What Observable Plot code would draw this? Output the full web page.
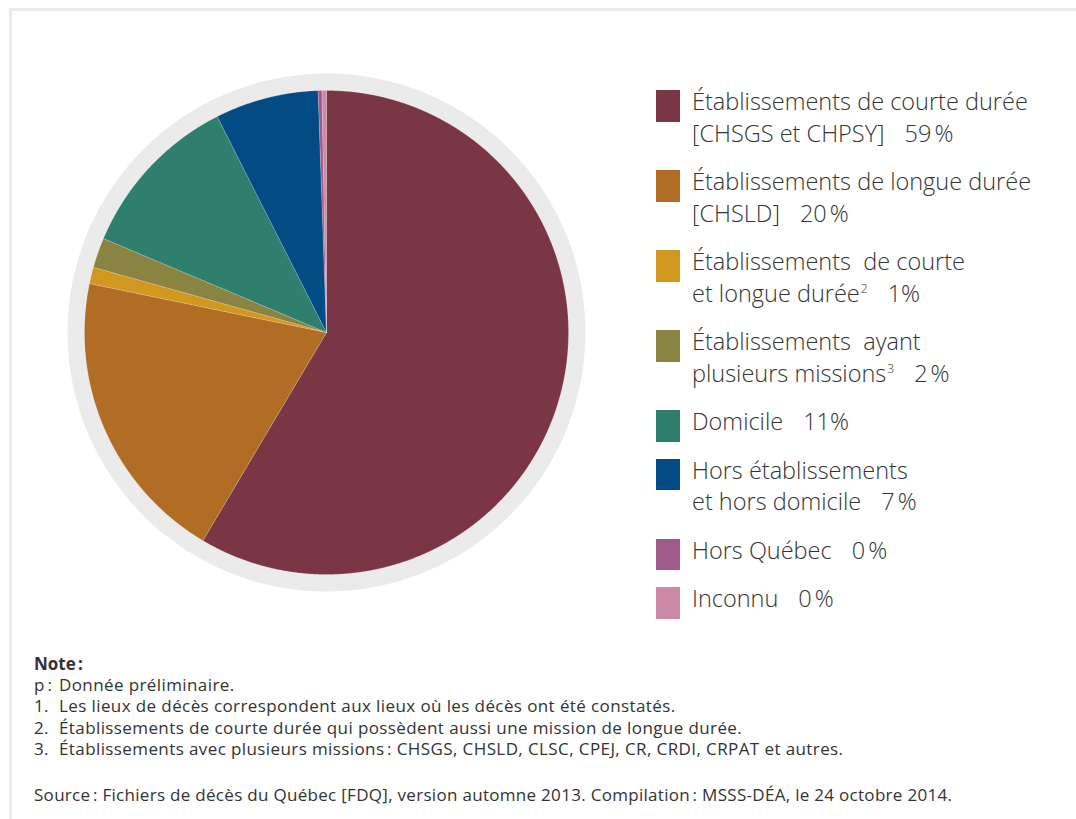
<!DOCTYPE html>
<html>
<head>
<meta charset="utf-8">
<script src="https://cdn.jsdelivr.net/npm/d3@7"></script>
<script src="https://cdn.jsdelivr.net/npm/@observablehq/plot@0.6"></script>
<style>
  html, body { margin: 0; padding: 0; background: #fff; }
  body { width: 1076px; height: 819px; position: relative; overflow: hidden;
         font-family: "Open Sans", "Noto Sans", sans-serif; font-weight: 300; color: #333; }
  #frame { position: absolute; left: 9px; top: 8px; width: 1200px; height: 1000px;
           border-top: 3px solid #ebebeb; border-left: 3px solid #ebebeb; }
  #chart { position: absolute; left: 26px; top: 32px; }
  #legend { position: absolute; left: 656px; top: 86px; width: 415px; }
  .item { position: relative; padding-left: 36px; font-size: 23.5px; line-height: 31.5px; margin-bottom: 17px; white-space: nowrap; }
  .item div { height: 31.5px; }
  .sw { position: absolute; left: 0; top: 4px; width: 24px; height: 24px; }
  .item sup { font-size: 12px; line-height: 0; vertical-align: 0; position: relative; top: -9px; margin-left: 1px; }
  .gap { display: inline-block; width: 20px; }
  #notes { position: absolute; left: 34px; top: 653px; font-size: 17px; font-weight: 400; letter-spacing: 0.4px; line-height: 21.2px; white-space: nowrap; }
  #notes b { font-weight: 700; letter-spacing: 0; }
  .lbl { display: inline-block; width: 25px; }
  #source { position: absolute; left: 34px; top: 784px; font-size: 17px; font-weight: 400; letter-spacing: 0.3px; line-height: 21px; white-space: nowrap; }
</style>
</head>
<body>
<div id="frame"></div>
<div id="chart"></div>
<div id="legend"></div>
<div id="notes"></div>
<div id="source"></div>
<script>
// ---- Data ----
const categories = [
  "Établissements de courte durée (CHSGS et CHPSY)",
  "Établissements de longue durée (CHSLD)",
  "Établissements de courte et longue durée",
  "Établissements ayant plusieurs missions",
  "Domicile",
  "Hors établissements et hors domicile",
  "Hors Québec",
  "Inconnu"
];
const values = [58.5, 19.7, 1.1, 2.0, 11.2, 6.9, 0.25, 0.3];
const colors = ["#7a3645", "#b06d23", "#d1971f", "#8a8443", "#2f7f6f", "#024b85", "#9f5a8c", "#cd8aa8"];
const legendLines = [
  ["Établissements de courte durée", "[CHSGS et CHPSY]", "59\u202F%", ""],
  ["Établissements de longue durée", "[CHSLD]", "20\u202F%", ""],
  ["Établissements\u00A0 de courte", "et longue durée", "1%", "2"],
  ["Établissements\u00A0 ayant", "plusieurs missions", "2\u202F%", "3"],
  [null, "Domicile", "11%", ""],
  ["Hors établissements", "et hors domicile", "7\u202F%", ""],
  [null, "Hors Québec", "0\u202F%", ""],
  [null, "Inconnu", "0\u202F%", ""]
];
const notes = [
  ["p\u202F:", "Donnée préliminaire."],
  ["1.", "Les lieux de décès correspondent aux lieux où les décès ont été constatés."],
  ["2.", "Établissements de courte durée qui possèdent aussi une mission de longue durée."],
  ["3.", "Établissements avec plusieurs missions\u202F: CHSGS, CHSLD, CLSC, CPEJ, CR, CRDI, CRPAT et autres."]
];
const sourceText = "Source\u202F: Fichiers de décès du Québec [FDQ], version automne 2013. Compilation\u202F: MSSS-DÉA, le 24 octobre 2014.";

// ---- Geometry from data ----
const ringRadius = 1.07;
const table = categories.map((name, i) => ({name, value: values[i]}));
const arcs = d3.pie().sort(null).value(d => d.value)(table);
const slicePts = [];
for (const a of arcs) {
  slicePts.push({name: a.data.name, x: 0, y: 0});
  const n = Math.max(2, Math.ceil((a.endAngle - a.startAngle) / 0.003));
  for (let k = 0; k <= n; k++) {
    const t = a.startAngle + (a.endAngle - a.startAngle) * k / n;
    slicePts.push({name: a.data.name, x: Math.sin(t), y: Math.cos(t)});
  }
  slicePts.push({name: a.data.name, x: 0, y: 0});
}
const ringPts = d3.range(0, 721).map(k => {
  const t = k / 720 * 2 * Math.PI;
  return {x: ringRadius * Math.sin(t), y: ringRadius * Math.cos(t)};
});

const D = 300 / 242;
const chart = Plot.plot({
  width: 600, height: 600, margin: 0,
  x: {domain: [-D, D], axis: null},
  y: {domain: [-D, D], axis: null},
  color: {domain: categories, range: colors},
  marks: [
    Plot.line(ringPts, {x: "x", y: "y", fill: "#ebebeb", stroke: "none"}),
    Plot.line(slicePts, {x: "x", y: "y", z: "name", fill: "name", stroke: "#ffffff", strokeWidth: 0.5, strokeOpacity: 0.35})
  ]
});
document.getElementById("chart").appendChild(chart);

// ---- Legend ----
const leg = document.getElementById("legend");
legendLines.forEach((l, i) => {
  const div = document.createElement("div");
  div.className = "item";
  const sw = document.createElement("div");
  sw.className = "sw"; sw.style.background = colors[i];
  div.appendChild(sw);
  let html = "";
  if (l[0]) html += `<div>${l[0]}</div>`;
  html += `<div>${l[1]}${l[3] ? `<sup>${l[3]}</sup>` : ""}<span class="gap"></span>${l[2]}</div>`;
  div.insertAdjacentHTML("beforeend", html);
  leg.appendChild(div);
});

// ---- Notes ----
const nt = document.getElementById("notes");
nt.insertAdjacentHTML("beforeend", `<div><b>Note\u202F:</b></div>`);
notes.forEach(n => nt.insertAdjacentHTML("beforeend", `<div><span class="lbl">${n[0]}</span>${n[1]}</div>`));
document.getElementById("source").textContent = sourceText;
</script>
</body>
</html>
